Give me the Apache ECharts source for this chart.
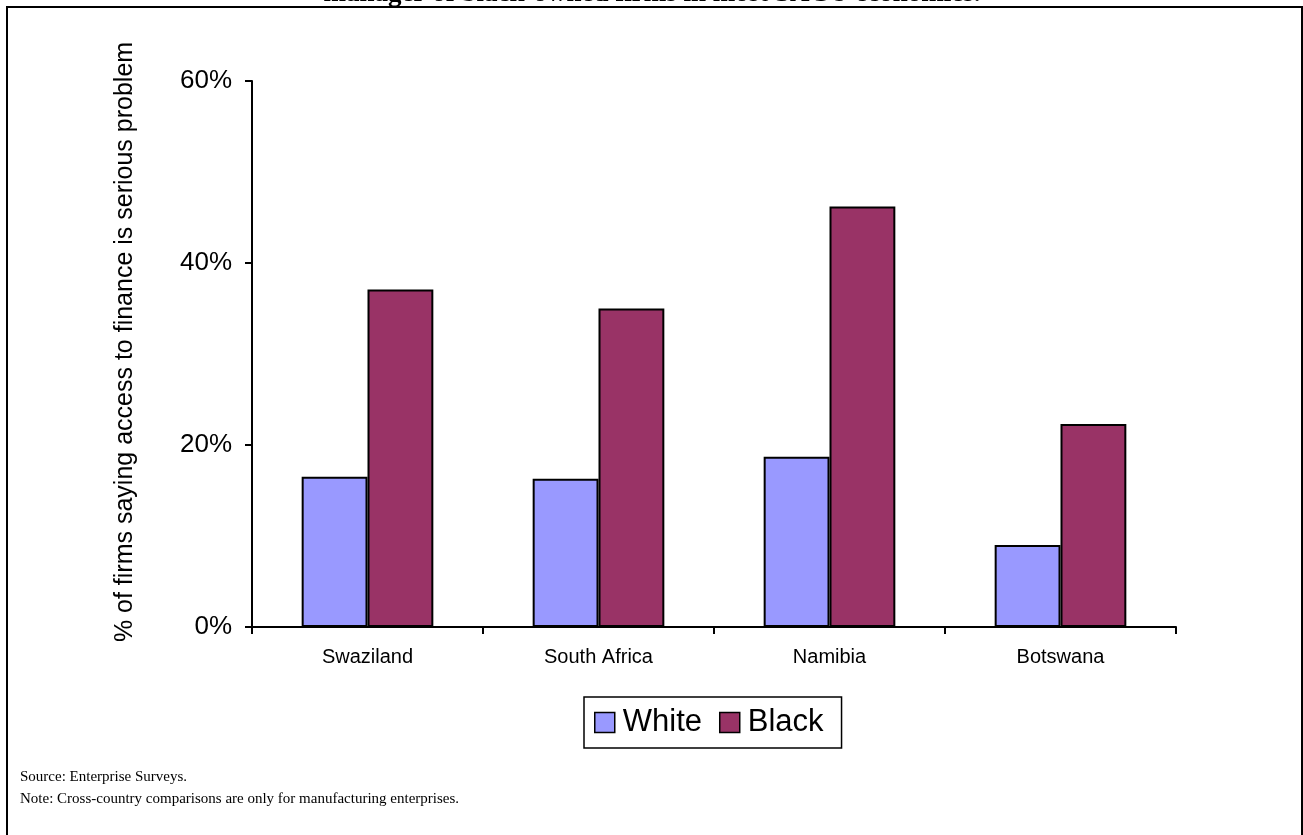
<!DOCTYPE html>
<html>
<head>
<meta charset="utf-8">
<script src="https://cdn.jsdelivr.net/npm/echarts@6/dist/echarts.min.js"></script>
<style>
  html, body { margin: 0; padding: 0; background: #ffffff; }
  #chart { width: 1303px; height: 835px; }
</style>
</head>
<body>
<div id="chart"></div>
<script>
// Share of firms reporting access to finance as a serious problem, by owner/manager race
const countries = ['Swaziland', 'South Africa', 'Namibia', 'Botswana'];
const whiteOwned = [16.5, 16.3, 18.7, 9.0];
const blackOwned = [37.1, 35.0, 46.2, 22.3];
const yTicks = [0, 20, 40, 60];
const seriesNames = ['White', 'Black'];

const sans = '"Liberation Sans", Arial, sans-serif';
const serif = '"Liberation Serif", "Times New Roman", serif';

const chart = echarts.init(document.getElementById('chart'), null, { renderer: 'canvas' });

chart.setOption({
  animation: false,
  backgroundColor: '#ffffff',
  grid: { left: 252, right: 127, top: 81, bottom: 208, containLabel: false },
  xAxis: {
    type: 'category',
    data: countries,
    axisLine: { lineStyle: { color: '#000', width: 2 } },
    axisTick: { show: true, length: 7, inside: false, lineStyle: { color: '#000', width: 2 } },
    axisLabel: { color: '#000', fontFamily: sans, fontSize: 20, margin: 20 }
  },
  yAxis: {
    type: 'value',
    min: yTicks[0],
    max: yTicks[yTicks.length - 1],
    interval: yTicks[1] - yTicks[0],
    name: '% of firms saying access to finance is serious problem',
    nameLocation: 'middle',
    nameGap: 114,
    nameTextStyle: { color: '#000', fontFamily: sans, fontSize: 25, padding: [0, 0, 0, 24] },
    axisLine: { show: true, lineStyle: { color: '#000', width: 2 } },
    axisTick: { show: true, length: 7, lineStyle: { color: '#000', width: 2 } },
    axisLabel: { color: '#000', fontFamily: sans, fontSize: 26, margin: 20, formatter: v => v + '%' },
    splitLine: { show: false }
  },
  legend: {
    data: seriesNames,
    left: 584,
    top: 697,
    orient: 'horizontal',
    icon: 'rect',
    itemWidth: 20,
    itemHeight: 20,
    itemGap: 17,
    padding: [10, 18, 10, 10],
    borderColor: '#000',
    borderWidth: 1.5,
    textStyle: { color: '#000', fontFamily: sans, fontSize: 31, padding: [0, 0, 0, 3] },
    itemStyle: { borderColor: '#000', borderWidth: 1.5 }
  },
  series: [
    {
      name: seriesNames[0],
      type: 'bar',
      data: whiteOwned,
      barGap: '0%',
      barCategoryGap: '43%',
      itemStyle: { color: '#9999FF', borderColor: '#000', borderWidth: 2 }
    },
    {
      name: seriesNames[1],
      type: 'bar',
      data: blackOwned,
      itemStyle: { color: '#993366', borderColor: '#000', borderWidth: 2 }
    }
  ],
  graphic: [
    {
      type: 'text',
      x: 652,
      y: 8,
      style: {
        text: 'manager of black-owned firms in most SACU economies.',
        fontFamily: serif,
        fontWeight: 'bold',
        fontSize: 27,
        fill: '#000',
        align: 'center',
        verticalAlign: 'bottom'
      }
    },
    {
      type: 'rect',
      shape: { x: 7, y: 7, width: 1295, height: 900 },
      style: { fill: 'none', stroke: '#000', lineWidth: 2 },
      silent: true
    },
    {
      type: 'text',
      x: 20,
      y: 777,
      style: {
        text: 'Source: Enterprise Surveys.',
        fontFamily: serif,
        fontSize: 15,
        fill: '#000',
        verticalAlign: 'middle'
      }
    },
    {
      type: 'text',
      x: 20,
      y: 799,
      style: {
        text: 'Note: Cross-country comparisons are only for manufacturing enterprises.',
        fontFamily: serif,
        fontSize: 15,
        fill: '#000',
        verticalAlign: 'middle'
      }
    }
  ]
});
</script>
</body>
</html>
